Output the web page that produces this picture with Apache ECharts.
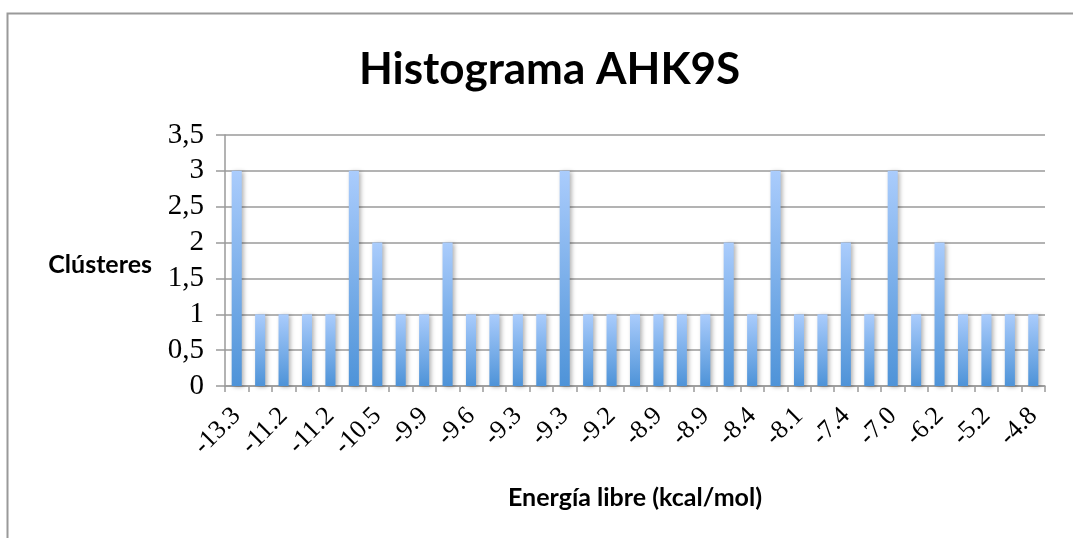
<!DOCTYPE html>
<html>
<head>
<meta charset="utf-8">
<script src="https://cdn.jsdelivr.net/npm/echarts@6/dist/echarts.min.js"></script>
<style>
  html, body { margin: 0; padding: 0; background: #fff; }
  #chart { width: 1073px; height: 538px; }
</style>
</head>
<body>
<div id="chart"></div>
<script>
// Free-energy bins (kcal/mol); every other bin is labelled on the axis
const categories = [
  '-13.3', '-12.4', '-11.2', '-11.2', '-11.2', '-10.8', '-10.5', '-10.2', '-9.9',
  '-9.7', '-9.6', '-9.4', '-9.3', '-9.3', '-9.3', '-9.3', '-9.2', '-9.0',
  '-8.9', '-8.9', '-8.9', '-8.6', '-8.4', '-8.3', '-8.1', '-7.8', '-7.4',
  '-7.2', '-7.0', '-6.6', '-6.2', '-5.7', '-5.2', '-5.0', '-4.8'
];
// Number of clusters per bin
const clusters = [
  3, 1, 1, 1, 1, 3, 2, 1, 1, 2, 1, 1, 1, 1, 3, 1, 1, 1,
  1, 1, 1, 2, 1, 3, 1, 1, 2, 1, 3, 1, 2, 1, 1, 1, 1
];
const yTicks = { min: 0, max: 3.5, step: 0.5 };

const chart = echarts.init(document.getElementById('chart'), null, { renderer: 'canvas' });

const serif = '"Liberation Serif", "DejaVu Serif", serif';
const sans = 'Lato, "Open Sans", "Liberation Sans", sans-serif';

chart.setOption({
  backgroundColor: '#ffffff',
  animation: false,
  title: {
    text: 'Histograma AHK9S',
    left: 354,
    top: 43,
    textStyle: { fontFamily: sans, fontWeight: 'bold', fontSize: 44, color: '#000' }
  },
  graphic: [{
    type: 'rect',
    shape: { x: 7.5, y: 13.5, width: 1200, height: 700 },
    style: { fill: null, stroke: '#9a9a9a', lineWidth: 2 },
    silent: true
  }],
  grid: { left: 225, right: 28, top: 135, bottom: 152, containLabel: false },
  xAxis: {
    type: 'category',
    data: categories,
    boundaryGap: true,
    name: 'Energía libre (kcal/mol)',
    nameLocation: 'middle',
    nameGap: 99,
    nameTextStyle: { fontFamily: sans, fontWeight: 'bold', fontSize: 25, color: '#000' },
    axisLine: { lineStyle: { color: '#9a9a9a', width: 1.5 } },
    axisTick: { show: true, interval: 0, length: 6, lineStyle: { color: '#9a9a9a', width: 1.5 } },
    axisLabel: {
      interval: 1,
      rotate: 45,
      margin: 26,
      fontFamily: serif,
      fontSize: 26,
      color: '#000'
    },
    splitLine: { show: false }
  },
  yAxis: {
    type: 'value',
    min: yTicks.min,
    max: yTicks.max,
    interval: yTicks.step,
    name: 'Clústeres',
    nameLocation: 'middle',
    nameRotate: 0,
    nameGap: 73,
    nameTextStyle: {
      fontFamily: sans, fontWeight: 'bold', fontSize: 25, color: '#000',
      align: 'right', verticalAlign: 'top', lineHeight: 8
    },
    axisLine: { show: true, lineStyle: { color: '#9a9a9a', width: 1.5 } },
    axisTick: { show: true, length: 9, lineStyle: { color: '#9a9a9a', width: 1.5 } },
    axisLabel: {
      margin: 21,
      fontFamily: serif,
      fontSize: 29,
      color: '#000',
      formatter: v => String(v).replace('.', ',')
    },
    splitLine: { lineStyle: { color: '#9a9a9a', width: 1.5 } }
  },
  series: [{
    type: 'bar',
    data: clusters,
    barWidth: '43%',
    itemStyle: {
      color: new echarts.graphic.LinearGradient(0, 0, 0, 1, [
        { offset: 0, color: '#aaccfc' },
        { offset: 1, color: '#4e93d8' }
      ]),
      shadowColor: 'rgba(0,0,0,0.3)',
      shadowBlur: 4,
      shadowOffsetX: 2,
      shadowOffsetY: 1
    }
  }]
});
</script>
</body>
</html>
